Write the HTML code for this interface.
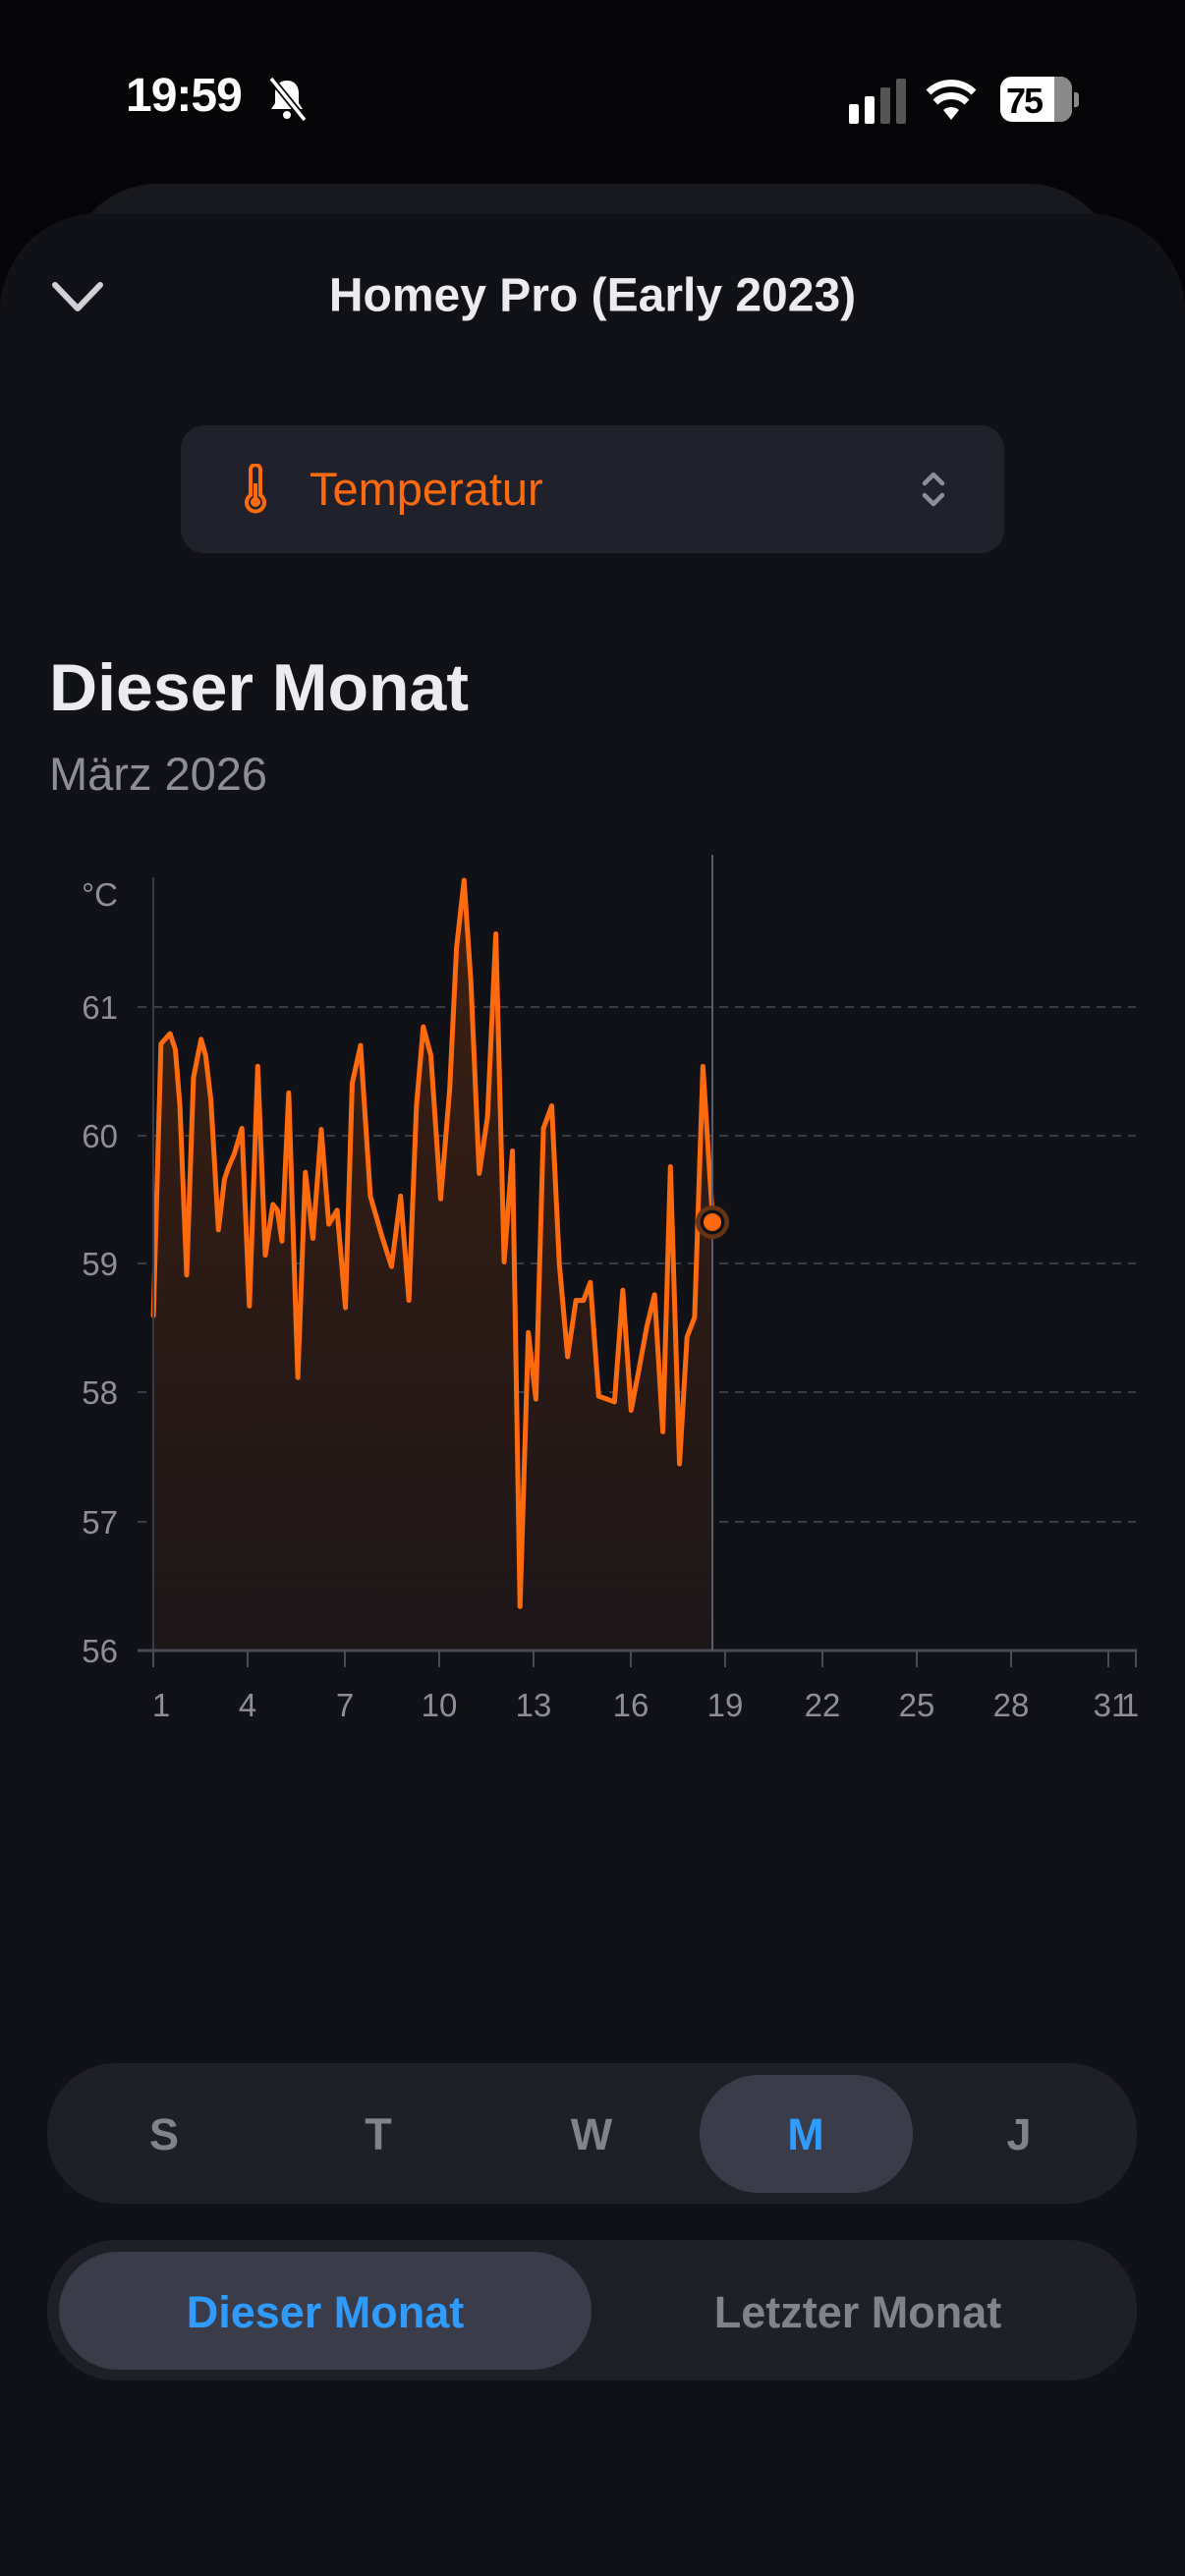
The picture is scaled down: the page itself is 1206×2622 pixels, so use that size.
<!DOCTYPE html>
<html><head><meta charset="utf-8"><style>
*{margin:0;padding:0;box-sizing:border-box}
body{width:1206px;height:2622px;background:#060608;position:relative;overflow:hidden;font-family:"Liberation Sans",sans-serif}
.abs{position:absolute}
.back{left:70px;top:187px;width:1066px;height:200px;background:#18191e;border-radius:90px 90px 0 0}
.sheet{left:0;top:217px;width:1206px;height:2405px;background:#111217;border-radius:100px 100px 0 0}
.t{position:absolute;white-space:nowrap}
.seg{background:#1f1f28;border-radius:70px}
.sel{background:#3b3c4a;border-radius:60px}
.lab{font-weight:bold;font-size:45px;color:#82828c;transform:translate(-50%,-50%)}
</style></head><body>
<div class="t" style="left:128px;top:70px;font-size:48px;font-weight:bold;color:#fff;letter-spacing:-1px">19:59</div>
<svg class="abs" style="left:268px;top:76px" width="48" height="48" viewBox="0 0 48 48"><path d="M24 6c-8 0-12 6-12 13v10l-4 6h32l-4-6V19c0-7-4-13-12-13z" fill="#fff"/><circle cx="24" cy="41" r="4" fill="#fff"/><line x1="8" y1="4" x2="42" y2="46" stroke="#060608" stroke-width="7"/><line x1="8" y1="4" x2="42" y2="46" stroke="#fff" stroke-width="3.5"/></svg>
<div class="abs" style="left:864px;top:106px;width:10px;height:20px;background:#fff;border-radius:2px"></div>
<div class="abs" style="left:880px;top:98px;width:10px;height:28px;background:#fff;border-radius:2px"></div>
<div class="abs" style="left:896px;top:89px;width:10px;height:37px;background:#555;border-radius:2px"></div>
<div class="abs" style="left:912px;top:80px;width:10px;height:46px;background:#555;border-radius:2px"></div>
<svg class="abs" style="left:942px;top:78px" width="52" height="46" viewBox="0 0 52 46"><path d="M26 44L34 34A12 12 0 0 0 18 34Z" fill="#fff"/><path d="M10 26A23 23 0 0 1 42 26" stroke="#fff" stroke-width="7" fill="none"/><path d="M3 16A33 33 0 0 1 49 16" stroke="#fff" stroke-width="7" fill="none"/></svg>
<div class="abs" style="left:1018px;top:78px;width:73px;height:46px;background:#fff;border-radius:12px;overflow:hidden"><div class="abs" style="left:55px;top:0;width:18px;height:46px;background:#8a8a8a"></div><div class="t" style="left:6px;top:4px;font-size:36px;font-weight:bold;color:#000;letter-spacing:-2px">75</div></div>
<div class="abs" style="left:1093px;top:94px;width:5px;height:15px;background:#8a8a8a;border-radius:0 3px 3px 0"></div>

<div class="abs back"></div>
<div class="abs sheet"></div>
<svg class="abs" style="left:52px;top:285px" width="54" height="34" viewBox="0 0 54 34"><path d="M4 5L27 29L50 5" stroke="#d0d0d6" stroke-width="6" fill="none" stroke-linecap="round" stroke-linejoin="round"/></svg>
<div class="t" style="left:603px;top:301px;transform:translate(-50%,-50%);font-size:48px;font-weight:bold;color:#ececf0">Homey Pro (Early 2023)</div>

<div class="abs" style="left:184px;top:433px;width:838px;height:130px;background:#20212b;border-radius:24px"></div>
<svg class="abs" style="left:246px;top:472px" width="28" height="52" viewBox="0 0 28 52"><path d="M9 6a5 5 0 0 1 10 0v26a9 9 0 1 1-10 0z" stroke="#ff6a0d" stroke-width="4" fill="none"/><circle cx="14" cy="39" r="5" fill="#ff6a0d"/><line x1="14" y1="20" x2="14" y2="36" stroke="#ff6a0d" stroke-width="4"/></svg>
<div class="t" style="left:315px;top:470px;font-size:47px;color:#ff6a0d">Temperatur</div>
<svg class="abs" style="left:935px;top:478px" width="30" height="40" viewBox="0 0 30 40"><path d="M6 14L15 5L24 14M6 26L15 35L24 26" stroke="#8e8e98" stroke-width="4.5" fill="none" stroke-linecap="round" stroke-linejoin="round"/></svg>

<div class="t" style="left:50px;top:661px;font-size:68px;font-weight:bold;color:#ececf0">Dieser Monat</div>
<div class="t" style="left:50px;top:760px;font-size:47px;color:#8e8e96">März 2026</div>

<svg class="abs" style="left:0;top:0" width="1206" height="1800">
<defs><linearGradient id="g" x1="0" y1="0" x2="0" y2="1"><stop offset="0" stop-color="#3d2012"/><stop offset="1" stop-color="#1c1618"/></linearGradient></defs>
<g stroke="#3a3b45" stroke-width="2" stroke-dasharray="9 7">
<line x1="140" y1="1025" x2="1156" y2="1025"/><line x1="140" y1="1156" x2="1156" y2="1156"/><line x1="140" y1="1286" x2="1156" y2="1286"/><line x1="140" y1="1417" x2="1156" y2="1417"/><line x1="140" y1="1549" x2="1156" y2="1549"/>
</g>
<g transform="translate(0,850) scale(0.76923,0.57405)">
<path fill="url(#g)" d="M203,852 L213,370 L225,352 L232,380 L238,480 L247,780 L256,430 L266,362 L272,390 L279,470 L289,700 L297,610 L302,590 L310,565 L320,520 L330,835 L341,410 L351,745 L361,655 L367,665 L373,720 L382,457 L394,962 L404,598 L414,715 L425,522 L435,690 L446,665 L457,838 L466,440 L477,373 L490,640 L505,710 L518,765 L530,640 L541,825 L551,480 L560,340 L570,390 L583,645 L595,450 L604,200 L614,80 L623,260 L634,600 L645,500 L656,175 L667,757 L678,560 L688,1368 L699,882 L709,1000 L719,520 L730,480 L740,760 L751,925 L762,825 L772,825 L781,793 L792,995 L803,1000 L813,1005 L824,807 L835,1020 L845,950 L856,870 L866,815 L877,1058 L887,588 L899,1115 L909,890 L919,855 L930,410 L943,686 L943,1444 L203,1444 Z"/>
<path fill="none" stroke="#ff6a0d" stroke-width="5" vector-effect="non-scaling-stroke" stroke-linejoin="round" stroke-linecap="round" d="M203,852 L213,370 L225,352 L232,380 L238,480 L247,780 L256,430 L266,362 L272,390 L279,470 L289,700 L297,610 L302,590 L310,565 L320,520 L330,835 L341,410 L351,745 L361,655 L367,665 L373,720 L382,457 L394,962 L404,598 L414,715 L425,522 L435,690 L446,665 L457,838 L466,440 L477,373 L490,640 L505,710 L518,765 L530,640 L541,825 L551,480 L560,340 L570,390 L583,645 L595,450 L604,200 L614,80 L623,260 L634,600 L645,500 L656,175 L667,757 L678,560 L688,1368 L699,882 L709,1000 L719,520 L730,480 L740,760 L751,925 L762,825 L772,825 L781,793 L792,995 L803,1000 L813,1005 L824,807 L835,1020 L845,950 L856,870 L866,815 L877,1058 L887,588 L899,1115 L909,890 L919,855 L930,410 L943,686"/>
</g>
<line x1="156" y1="893" x2="156" y2="1680" stroke="#3a3b45" stroke-width="2"/>
<line x1="140" y1="1680" x2="1157" y2="1680" stroke="#4a4b55" stroke-width="3"/>
<line x1="725" y1="870" x2="725" y2="1680" stroke="#5a5b66" stroke-width="2"/>
<g stroke="#4a4b55" stroke-width="2">
<line x1="156" y1="1680" x2="156" y2="1697"/><line x1="252" y1="1680" x2="252" y2="1697"/><line x1="351" y1="1680" x2="351" y2="1697"/><line x1="447" y1="1680" x2="447" y2="1697"/><line x1="543" y1="1680" x2="543" y2="1697"/><line x1="642" y1="1680" x2="642" y2="1697"/><line x1="738" y1="1680" x2="738" y2="1697"/><line x1="837" y1="1680" x2="837" y2="1697"/><line x1="933" y1="1680" x2="933" y2="1697"/><line x1="1029" y1="1680" x2="1029" y2="1697"/><line x1="1128" y1="1680" x2="1128" y2="1697"/><line x1="1156" y1="1680" x2="1156" y2="1697"/>
</g>
<circle cx="725" cy="1244" r="17" fill="#6a3412"/>
<circle cx="725" cy="1244" r="12.5" fill="#111217"/>
<circle cx="725" cy="1244" r="9" fill="#ff6a0d"/>
<g font-family="Liberation Sans" font-size="33" fill="#8e8e96" text-anchor="end">
<text x="120" y="922">°C</text><text x="120" y="1037">61</text><text x="120" y="1168">60</text><text x="120" y="1298">59</text><text x="120" y="1429">58</text><text x="120" y="1561">57</text><text x="120" y="1692">56</text>
</g>
<g font-family="Liberation Sans" font-size="33" fill="#8e8e96" text-anchor="middle">
<text x="164" y="1747">1</text><text x="252" y="1747">4</text><text x="351" y="1747">7</text><text x="447" y="1747">10</text><text x="543" y="1747">13</text><text x="642" y="1747">16</text><text x="738" y="1747">19</text><text x="837" y="1747">22</text><text x="933" y="1747">25</text><text x="1029" y="1747">28</text><text x="1131" y="1747">31</text><text x="1150" y="1747">1</text>
</g>
</svg>

<div class="abs seg" style="left:48px;top:2100px;width:1109px;height:143px"></div>
<div class="abs sel" style="left:712px;top:2112px;width:217px;height:120px"></div>
<div class="t lab" style="left:167px;top:2173px">S</div>
<div class="t lab" style="left:385px;top:2173px">T</div>
<div class="t lab" style="left:602px;top:2173px">W</div>
<div class="t lab" style="left:820px;top:2173px;color:#2f9bff">M</div>
<div class="t lab" style="left:1037px;top:2173px">J</div>

<div class="abs seg" style="left:48px;top:2280px;width:1109px;height:143px"></div>
<div class="abs sel" style="left:60px;top:2292px;width:542px;height:120px"></div>
<div class="t lab" style="left:331px;top:2354px;color:#2f9bff">Dieser Monat</div>
<div class="t lab" style="left:873px;top:2354px">Letzter Monat</div>
</body></html>
